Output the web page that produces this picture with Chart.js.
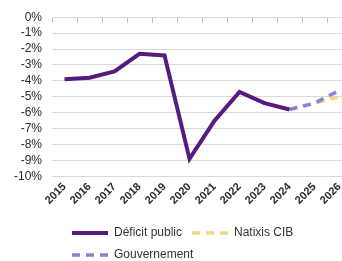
<!DOCTYPE html>
<html>
<head>
<meta charset="utf-8">
<script src="https://cdn.jsdelivr.net/npm/chart.js@4/dist/chart.umd.min.js"></script>
<style>
  html, body { margin: 0; padding: 0; background: #fff; overflow: hidden; }
  #wrap { position: relative; width: 356px; height: 261px; }
</style>
</head>
<body>
<div id="wrap"><canvas id="c"></canvas></div>
<script>
const years = ['2015','2016','2017','2018','2019','2020','2021','2022','2023','2024','2025','2026'];
const deficitPublic = [-3.9, -3.8, -3.4, -2.3, -2.4, -8.9, -6.5, -4.7, -5.4, -5.8, null, null];
const natixisCIB = [null, null, null, null, null, null, null, null, null, -5.8, -5.4, -5.0];
const gouvernement = [null, null, null, null, null, null, null, null, null, -5.8, -5.4, -4.6];
const yTicks = [0, -1, -2, -3, -4, -5, -6, -7, -8, -9, -10];

const textColor = '#262b3a';
const gridColor = '#d9d9d9';

const legendShift = {
  id: 'legendShift',
  beforeDraw(chart) {
    const lg = chart.legend;
    if (lg) { lg.left = 62; lg.top = 217; }
  }
};

const noPad = () => ({ left: 0, right: 0, top: 0, bottom: 0 });

new Chart(document.getElementById('c'), {
  type: 'line',
  data: {
    labels: years,
    datasets: [
      { label: 'Déficit public', data: deficitPublic, borderColor: '#561a80', backgroundColor: '#561a80',
        borderWidth: 4, pointRadius: 0, tension: 0, order: 1 },
      { label: 'Natixis CIB', data: natixisCIB, borderColor: '#f6d77c', backgroundColor: '#f6d77c',
        borderWidth: 3.5, borderDash: [8, 6], pointRadius: 0, tension: 0, order: 3 },
      { label: 'Gouvernement', data: gouvernement, borderColor: '#8a80d6', backgroundColor: '#8a80d6',
        borderWidth: 3.5, borderDash: [8, 6], pointRadius: 0, tension: 0, order: 2 }
    ]
  },
  options: {
    responsive: true,
    maintainAspectRatio: false,
    animation: false,
    spanGaps: false,
    layout: { padding: { left: 14, top: 14, right: 4, bottom: -4 } },
    plugins: {
      tooltip: { enabled: false },
      legend: {
        position: 'bottom',
        align: 'start',
        labels: {
          usePointStyle: true,
          pointStyle: 'line',
          pointStyleWidth: 36,
          boxWidth: 36,
          boxHeight: 12,
          padding: 10,
          color: '#333333',
          font: { family: 'Liberation Sans, Arial, sans-serif', size: 12 },
          sort: (a, b) => a.datasetIndex - b.datasetIndex,
          generateLabels(chart) {
            const items = Chart.defaults.plugins.legend.labels.generateLabels(chart);
            items.forEach(it => {
              const ds = chart.data.datasets[it.datasetIndex];
              it.lineDash = ds.borderDash || [];
              it.lineWidth = ds.borderWidth;
              it.strokeStyle = ds.borderColor;
              it.fillStyle = ds.borderColor;
              it.pointStyle = 'line';
            });
            return items;
          }
        }
      }
    },
    scales: {
      x: {
        type: 'category',
        position: 'bottom',
        offset: true,
        grid: { display: false, drawTicks: false },
        border: { display: false },
        afterFit(scale) { scale.paddingLeft = 0; scale.paddingRight = 0; scale.getPadding = noPad; },
        ticks: {
          minRotation: 45, maxRotation: 45, padding: 4,
          color: textColor,
          font: { family: 'Liberation Sans, Arial, sans-serif', size: 11, weight: 'bold' }
        }
      },
      x2: {
        type: 'category',
        position: { y: 0 },
        offset: true,
        afterFit(scale) { scale.paddingLeft = 0; scale.paddingRight = 0; scale.getPadding = noPad; },
        grid: { offset: true, drawOnChartArea: false, drawTicks: true, tickLength: 5, color: '#bdbdbd', lineWidth: 1 },
        border: { display: true, color: gridColor },
        ticks: { display: false }
      },
      y: {
        min: -10, max: 0,
        afterBuildTicks(scale) { scale.ticks = yTicks.map(v => ({ value: v })); },
        afterFit(scale) { scale.width = 38; },
        grid: { color: gridColor, drawTicks: false, lineWidth: 1 },
        border: { display: false },
        ticks: {
          autoSkip: false,
          padding: 10,
          color: textColor,
          font: { family: 'Liberation Sans, Arial, sans-serif', size: 12 },
          callback: v => (v === 0 ? 0 : v) + '%'
        }
      }
    }
  },
  plugins: [legendShift]
});
</script>
</body>
</html>
